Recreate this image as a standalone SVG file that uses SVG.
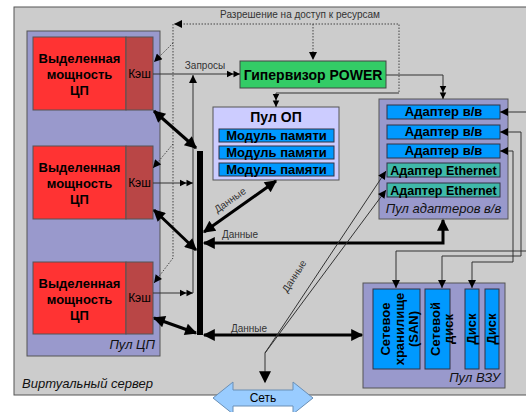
<svg xmlns="http://www.w3.org/2000/svg" width="526" height="412" viewBox="0 0 526 412">
  <style>
    text { font-family: "Liberation Sans", Arial, sans-serif; fill: #000; }
    .b { font-weight: bold; }
    .it { font-style: italic; font-size: 13px; fill: #111; }
    .sm { font-size: 10px; fill: #333; }
    .frame { stroke: #555; stroke-width: 1; }
    .pool { fill: #9999cc; stroke: #555; }
    .cpu { fill: #ff3333; stroke: #555; }
    .cache { fill: #b94646; stroke: #555; }
    .blue { fill: #0099ff; stroke: #334; }
    .teal { fill: #3fb9a9; stroke: #334; }
    .thin { fill: none; stroke: #333; stroke-width: 1; }
    .dot { fill: none; stroke: #444; stroke-width: 1; stroke-dasharray: 1.5 1.5; }
    .thick { fill: none; stroke: #000; stroke-width: 3; }
  </style>
  <defs>
    <marker id="ah" viewBox="0 0 10 10" refX="10" refY="5" markerWidth="9" markerHeight="8" markerUnits="userSpaceOnUse" orient="auto-start-reverse">
      <path d="M0,0 L10,5 L0,10 z" fill="#000"/>
    </marker>
    <marker id="ah2" viewBox="0 0 20 10" refX="20" refY="5" markerWidth="13" markerHeight="8" markerUnits="userSpaceOnUse" orient="auto">
      <path d="M0,0 L10,5 L0,10 z M10,0 L20,5 L10,10 z" fill="#000"/>
    </marker>
    <marker id="big" viewBox="0 0 10 10" refX="9" refY="5" markerWidth="15" markerHeight="12" markerUnits="userSpaceOnUse" orient="auto-start-reverse">
      <path d="M0,0 L10,5 L0,10 z" fill="#000"/>
    </marker>
  </defs>

  <rect width="526" height="412" fill="#fff"/>

  <!-- virtual server frame -->
  <g id="server">
    <rect x="14" y="7" width="530" height="388" fill="#cccccc" class="frame"/>
    <text x="22" y="388" class="it">Виртуальный сервер</text>
  </g>

  <!-- CPU pool -->
  <g id="cpu-pool">
    <rect x="27" y="31" width="133" height="325" class="pool"/>
    <text x="155" y="349" class="it" text-anchor="end">Пул ЦП</text>
  </g>
  <g id="cpu1">
    <rect x="33" y="37" width="93" height="73" class="cpu"/>
    <rect x="126" y="37" width="27" height="73" class="cache"/>
    <text class="b" font-size="13" text-anchor="middle"><tspan x="79.5" y="63">Выделенная</tspan><tspan x="79.5" y="79">мощность</tspan><tspan x="79.5" y="95">ЦП</tspan></text>
    <text x="139.5" y="78" font-size="12" text-anchor="middle">Кэш</text>
  </g>
  <g id="cpu2">
    <rect x="33" y="146" width="93" height="73" class="cpu"/>
    <rect x="126" y="146" width="27" height="73" class="cache"/>
    <text class="b" font-size="13" text-anchor="middle"><tspan x="79.5" y="172">Выделенная</tspan><tspan x="79.5" y="188">мощность</tspan><tspan x="79.5" y="204">ЦП</tspan></text>
    <text x="139.5" y="187" font-size="12" text-anchor="middle">Кэш</text>
  </g>
  <g id="cpu3">
    <rect x="33" y="262" width="93" height="72" class="cpu"/>
    <rect x="126" y="262" width="27" height="72" class="cache"/>
    <text class="b" font-size="13" text-anchor="middle"><tspan x="79.5" y="288">Выделенная</tspan><tspan x="79.5" y="304">мощность</tspan><tspan x="79.5" y="320">ЦП</tspan></text>
    <text x="139.5" y="302" font-size="12" text-anchor="middle">Кэш</text>
  </g>

  <!-- hypervisor -->
  <g id="hypervisor">
    <rect x="240" y="61" width="146" height="27" fill="#33cc66" stroke="#444"/>
    <text x="313" y="80" class="b" font-size="14" text-anchor="middle">Гипервизор POWER</text>
  </g>

  <!-- memory pool -->
  <g id="mem-pool">
    <rect x="213" y="107" width="126" height="73" fill="#ccccff" stroke="#555"/>
    <text x="276" y="122" class="b" font-size="14" text-anchor="middle">Пул ОП</text>
    <rect x="219" y="129" width="115" height="13" class="blue"/>
    <rect x="219" y="146" width="115" height="13" class="blue"/>
    <rect x="219" y="163" width="115" height="13" class="blue"/>
    <text class="b" font-size="13" text-anchor="middle"><tspan x="276.5" y="140">Модуль памяти</tspan><tspan x="276.5" y="157">Модуль памяти</tspan><tspan x="276.5" y="174">Модуль памяти</tspan></text>
  </g>

  <!-- I/O adapter pool -->
  <g id="io-pool">
    <rect x="379" y="99" width="129" height="120" class="pool"/>
    <rect x="387" y="105" width="113" height="14" class="blue"/>
    <rect x="387" y="125" width="113" height="14" class="blue"/>
    <rect x="387" y="144" width="113" height="14" class="blue"/>
    <rect x="387" y="163" width="113" height="14" class="teal"/>
    <rect x="387" y="183" width="113" height="14" class="teal"/>
    <text class="b" font-size="13" text-anchor="middle"><tspan x="443.5" y="116">Адаптер в/в</tspan><tspan x="443.5" y="136">Адаптер в/в</tspan><tspan x="443.5" y="155">Адаптер в/в</tspan></text>
    <text class="b" font-size="12.5" text-anchor="middle"><tspan x="443.5" y="174.5">Адаптер Ethernet</tspan><tspan x="443.5" y="194.5">Адаптер Ethernet</tspan></text>
    <text x="443.5" y="213" class="it" text-anchor="middle">Пул адаптеров в/в</text>
  </g>

  <!-- storage pool -->
  <g id="storage-pool">
    <rect x="363" y="283" width="142" height="105" class="pool"/>
    <rect x="373" y="289" width="47" height="80" class="blue"/>
    <rect x="425" y="289" width="25" height="80" class="blue"/>
    <rect x="465" y="289" width="14" height="80" class="blue"/>
    <rect x="485" y="289" width="14" height="80" class="blue"/>
    <text class="b" font-size="13" text-anchor="middle" transform="translate(396.5,329) rotate(-90)"><tspan x="0" y="-7">Сетевое</tspan><tspan x="0" y="7">хранилище</tspan><tspan x="0" y="21">(SAN)</tspan></text>
    <text class="b" font-size="13" text-anchor="middle" transform="translate(438,329) rotate(-90)"><tspan x="0" y="2">Сетевой</tspan><tspan x="0" y="15">диск</tspan></text>
    <text class="b" font-size="13" text-anchor="middle" transform="translate(472,329) rotate(-90)" y="4">Диск</text>
    <text class="b" font-size="13" text-anchor="middle" transform="translate(492,329) rotate(-90)" y="4">Диск</text>
    <text x="500" y="382" class="it" text-anchor="end">Пул ВЗУ</text>
  </g>

  <!-- network -->
  <g id="network">
    <polygon points="213,398 233,382 233,390 293,390 293,382 313,398 293,414 293,406 233,406 233,414" fill="#99ccff" stroke="#6a8fb5"/>
    <text x="263" y="402" font-size="12" fill="#334" text-anchor="middle">Сеть</text>
  </g>

  <!-- connectors -->
  <g id="connectors">
    <!-- access permission (dotted) -->
    <path d="M399,92 V24 H174" class="dot" marker-end="url(#ah)"/>
    <path d="M173,24 V258 L154,283" class="dot" marker-end="url(#ah)"/>
    <path d="M173,43 L154,62" class="dot" marker-end="url(#ah)"/>
    <path d="M173,144 L153,168" class="dot" marker-end="url(#ah)"/>
    <path d="M313,24 V60" class="dot" marker-end="url(#ah)"/>
    <text x="300" y="18" class="sm" text-anchor="middle">Разрешение на доступ к ресурсам</text>
    <path d="M399,93 H276 V107" class="thin" marker-end="url(#ah2)"/>

    <!-- requests -->
    <path d="M153,74 H240" class="thin" marker-end="url(#ah2)"/>
    <text x="205" y="69" class="sm" text-anchor="middle">Запросы</text>
    <path d="M193,293 V75" class="thin" marker-end="url(#ah)"/>
    <path d="M153,183 H193" class="thin" marker-end="url(#ah2)"/>
    <path d="M153,293 H193" class="thin" marker-end="url(#ah2)"/>

    <!-- hypervisor to adapters -->
    <path d="M386,75 H443 V99" class="thin" marker-end="url(#ah2)"/>

    <!-- data bus -->
    <rect x="197" y="151" width="6" height="184" fill="#000"/>
    <path d="M154,111 L196,148" class="thick" marker-start="url(#big)" marker-end="url(#big)"/>
    <path d="M154,210 L196,250" class="thick" marker-start="url(#big)" marker-end="url(#big)"/>
    <path d="M154,318 L196,333" class="thick" marker-start="url(#big)" marker-end="url(#big)"/>
    <path d="M276,181 L204,232" class="thick" marker-start="url(#big)" marker-end="url(#big)"/>
    <text class="sm" text-anchor="middle" transform="translate(232,203) rotate(-35)">Данные</text>
    <path d="M443,220 V243 H204" class="thick" marker-start="url(#big)" marker-end="url(#big)"/>
    <text x="240" y="238" class="sm" text-anchor="middle">Данные</text>
    <path d="M204,335 H362" class="thick" marker-start="url(#big)" marker-end="url(#big)"/>
    <text x="249" y="332" class="sm" text-anchor="middle">Данные</text>

    <!-- ethernet to network -->
    <path d="M386,171 L265,353 V382" class="thin" stroke="#000" marker-start="url(#ah)" marker-end="url(#big)"/>
    <path d="M386,190 L265,353" class="thin" stroke="#000" marker-start="url(#ah)"/>
    <text class="sm" text-anchor="middle" transform="translate(297,278) rotate(-57)">Данные</text>

    <!-- adapters to storage -->
    <path d="M500,112 H530 V251 H396 V288" class="thin" marker-start="url(#ah)" marker-end="url(#ah)"/>
    <path d="M500,132 H521 V256 H442 V288" class="thin" marker-start="url(#ah)" marker-end="url(#ah)"/>
    <path d="M500,151 H513 V262 H472 V288" class="thin" marker-start="url(#ah)" marker-end="url(#ah)"/>
  </g>
</svg>
